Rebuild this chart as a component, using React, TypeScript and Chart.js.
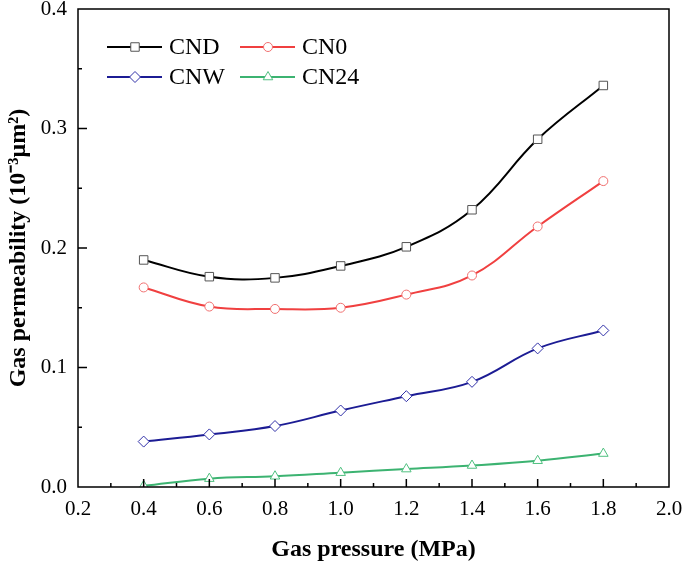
import React, { useEffect, useRef } from "react";
import { Chart, registerables } from "chart.js";

Chart.register(...registerables);

const pressures = [0.4, 0.6, 0.8, 1.0, 1.2, 1.4, 1.6, 1.8];
const cnd = [0.19, 0.176, 0.175, 0.185, 0.201, 0.232, 0.291, 0.336];
const cn0 = [0.167, 0.151, 0.149, 0.15, 0.161, 0.177, 0.218, 0.256];
const cnw = [0.038, 0.044, 0.051, 0.064, 0.076, 0.088, 0.116, 0.131];
const cn24 = [0.001, 0.007, 0.009, 0.012, 0.015, 0.018, 0.022, 0.028];

const seriesNames = ["CND", "CN0", "CNW", "CN24"];
const lineColors = ["#000000", "#f04040", "#1c1c94", "#3cb371"];
const markerColors = ["#555555", "#f07070", "#3030a8", "#50c080"];
const markerStyles = ["rect", "circle", "rectRot", "triangle"];
const markerRadius = [6, 4.5, 5.5, 5.5];

const xTicksMajor = [0.2, 0.4, 0.6, 0.8, 1.0, 1.2, 1.4, 1.6, 1.8, 2.0];
const xTicksMinor = [0.3, 0.5, 0.7, 0.9, 1.1, 1.3, 1.5, 1.7, 1.9];
const yTicksMajor = [0, 0.1, 0.2, 0.3, 0.4];
const yTicksMinor = [0.05, 0.15, 0.25, 0.35];

const FONT = "'Liberation Serif', 'Times New Roman', serif";

function drawMarker(ctx: CanvasRenderingContext2D, style: string, r: number, x: number, y: number) {
  ctx.beginPath();
  if (style === "rect") {
    const s = Math.SQRT1_2 * r;
    ctx.rect(x - s, y - s, 2 * s, 2 * s);
  } else if (style === "circle") {
    ctx.arc(x, y, r, 0, Math.PI * 2);
  } else if (style === "rectRot") {
    ctx.moveTo(x - r, y);
    ctx.lineTo(x, y - r);
    ctx.lineTo(x + r, y);
    ctx.lineTo(x, y + r);
    ctx.closePath();
  } else {
    const a = (Math.PI / 2);
    ctx.moveTo(x, y - r);
    ctx.lineTo(x + Math.cos(a - Math.PI / 6 - Math.PI / 2 + Math.PI / 2) * 0, y);
    ctx.beginPath();
    const rad = -Math.PI / 2;
    ctx.moveTo(x + Math.cos(rad) * r, y + Math.sin(rad) * r);
    ctx.lineTo(x + Math.cos(rad + (2 * Math.PI) / 3) * r, y + Math.sin(rad + (2 * Math.PI) / 3) * r);
    ctx.lineTo(x + Math.cos(rad + (4 * Math.PI) / 3) * r, y + Math.sin(rad + (4 * Math.PI) / 3) * r);
    ctx.closePath();
  }
  ctx.fill();
  ctx.stroke();
}

const framePlugin = {
  id: "frameTicks",
  afterDatasetsDraw(chart: any) {
    const ctx: CanvasRenderingContext2D = chart.ctx;
    const area = chart.chartArea;
    const xs = chart.scales.x;
    const ys = chart.scales.y;
    ctx.save();
    ctx.setLineDash([]);
    ctx.globalAlpha = 1;
    ctx.strokeStyle = "#000000";
    ctx.lineWidth = 1.5;
    ctx.beginPath();
    ctx.moveTo(area.left, area.top);
    ctx.lineTo(area.right, area.top);
    ctx.lineTo(area.right, area.bottom);
    ctx.lineTo(area.left, area.bottom);
    ctx.closePath();
    xTicksMajor.forEach((v) => {
      const px = xs.getPixelForValue(v);
      ctx.moveTo(px, area.bottom);
      ctx.lineTo(px, area.bottom - 8);
    });
    xTicksMinor.forEach((v) => {
      const px = xs.getPixelForValue(v);
      ctx.moveTo(px, area.bottom);
      ctx.lineTo(px, area.bottom - 4);
    });
    yTicksMajor.forEach((v) => {
      const py = ys.getPixelForValue(v);
      ctx.moveTo(area.left, py);
      ctx.lineTo(area.left + 9, py);
    });
    yTicksMinor.forEach((v) => {
      const py = ys.getPixelForValue(v);
      ctx.moveTo(area.left, py);
      ctx.lineTo(area.left + 4, py);
    });
    ctx.stroke();

    const cols = [area.left + 29, area.left + 162];
    const rows = [area.top + 38, area.top + 68];
    chart.data.datasets.forEach((ds: any, i: number) => {
      const x0 = cols[i % 2];
      const y0 = rows[Math.floor(i / 2)];
      ctx.strokeStyle = ds.borderColor;
      ctx.lineWidth = 2;
      ctx.beginPath();
      ctx.moveTo(x0, y0);
      ctx.lineTo(x0 + 55, y0);
      ctx.stroke();
      ctx.fillStyle = "#ffffff";
      ctx.strokeStyle = ds.pointBorderColor;
      ctx.lineWidth = 1;
      drawMarker(ctx, ds.pointStyle, ds.pointRadius, x0 + 28, y0);
      ctx.fillStyle = "#000000";
      ctx.font = `24px ${FONT}`;
      ctx.textAlign = "left";
      ctx.textBaseline = "middle";
      ctx.fillText(ds.label, x0 + 62, y0 + 1);
    });
    ctx.restore();
  },
};

export default function App() {
  const ref = useRef<HTMLCanvasElement>(null);
  useEffect(() => {
    if (!ref.current) return;
    const all = [cnd, cn0, cnw, cn24];
    const chart = new Chart(ref.current, {
      type: "line",
      data: {
        datasets: all.map((vals, i) => ({
          label: seriesNames[i],
          data: pressures.map((p, j) => ({ x: p, y: vals[j] })),
          borderColor: lineColors[i],
          borderWidth: 2,
          tension: 0.4,
          pointStyle: markerStyles[i] as any,
          pointRadius: markerRadius[i],
          pointBorderWidth: 1,
          pointBorderColor: markerColors[i],
          pointBackgroundColor: "#ffffff",
          fill: false,
        })),
      },
      options: {
        animation: false,
        responsive: false,
        devicePixelRatio: 1,
        layout: { padding: { left: 0, right: 16, top: 9, bottom: 0 } },
        plugins: { legend: { display: false }, tooltip: { enabled: false } },
        scales: {
          x: {
            type: "linear",
            min: 0.2,
            max: 2.0,
            grid: { display: false, drawTicks: false },
            border: { display: false },
            ticks: {
              stepSize: 0.2,
              padding: 10,
              color: "#000",
              font: { family: FONT, size: 21 },
              callback: (v: any) => Number(v).toFixed(1),
            },
            title: {
              display: true,
              text: "Gas pressure (MPa)",
              color: "#000",
              font: { family: FONT, size: 24, weight: "bold" },
              padding: { top: 0, bottom: 5 },
            },
            afterFit: (s: any) => {
              s.height = 82;
              s.paddingLeft = 0;
              s.paddingRight = 0;
            },
          },
          y: {
            type: "linear",
            min: 0,
            max: 0.4,
            grid: { display: false, drawTicks: false },
            border: { display: false },
            ticks: {
              stepSize: 0.1,
              padding: 11,
              color: "#000",
              font: { family: FONT, size: 21 },
              callback: (v: any) => Number(v).toFixed(1),
            },
            title: {
              display: true,
              text: "Gas permeability (10⁻³μm²)",
              color: "#000",
              font: { family: FONT, size: 24, weight: "bold" },
              padding: { top: 4, bottom: 0 },
            },
            afterFit: (s: any) => {
              s.width = 78;
              s.paddingTop = 0;
              s.paddingBottom = 0;
            },
          },
        },
      },
      plugins: [framePlugin],
    });
    return () => chart.destroy();
  }, []);
  return (
    <div style={{ position: "fixed", left: 0, top: 0, width: 685, height: 569, background: "#fff" }}>
      <canvas ref={ref} width={685} height={569} style={{ display: "block" }} />
    </div>
  );
}
